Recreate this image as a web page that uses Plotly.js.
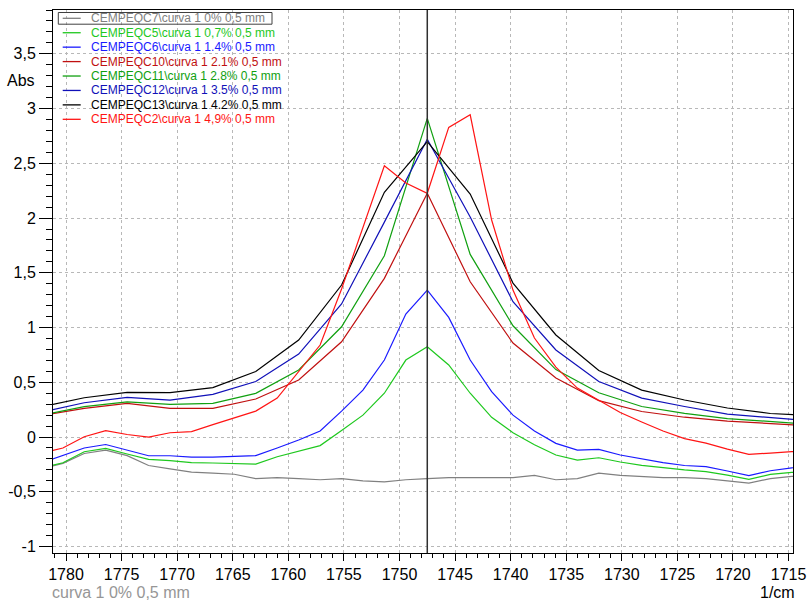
<!DOCTYPE html>
<html>
<head>
<meta charset="utf-8">
<script src="https://cdn.plot.ly/plotly-3.0.1.min.js"></script>
<style>
  html, body { margin: 0; padding: 0; background: #ffffff; }
  #chart { width: 811px; height: 600px; }
</style>
</head>
<body>
<div id="chart"></div>
<script>
// Wavenumber grids (1/cm): full-resolution spectra and half-density spectra
const wnFine = [1782.21, 1780.28, 1778.36, 1776.43, 1774.50, 1772.57, 1770.64, 1768.71, 1766.79, 1764.86,
                1762.93, 1761.00, 1759.07, 1757.14, 1755.21, 1753.29, 1751.36, 1749.43, 1747.50, 1745.57,
                1743.64, 1741.71, 1739.79, 1737.86, 1735.93, 1734.00, 1732.07, 1730.14, 1728.21, 1726.29,
                1724.36, 1722.43, 1720.50, 1718.57, 1716.64, 1714.71, 1712.79];
const wnCoarse = [1782.21, 1778.36, 1774.50, 1770.64, 1766.79, 1762.93, 1759.07, 1755.21, 1751.36, 1747.50,
                  1743.64, 1739.79, 1735.93, 1732.07, 1728.21, 1724.36, 1720.50, 1716.64, 1712.79];

// Absorbance values per sample
const absC7 = [-0.29, -0.24, -0.15, -0.12, -0.17, -0.26, -0.29, -0.32, -0.33, -0.34,
               -0.38, -0.37, -0.38, -0.39, -0.38, -0.40, -0.41, -0.39, -0.38, -0.37,
               -0.37, -0.37, -0.37, -0.35, -0.39, -0.38, -0.33, -0.35, -0.36, -0.37,
               -0.37, -0.38, -0.40, -0.42, -0.38, -0.36, -0.35];
const absC5 = [-0.28, -0.235, -0.134, -0.103, -0.155, -0.204, -0.215, -0.233, -0.237, -0.242,
               -0.247, -0.18, -0.128, -0.078, 0.06, 0.2, 0.4, 0.703, 0.825, 0.658,
               0.4, 0.18, 0.04, -0.07, -0.164, -0.21, -0.189, -0.228, -0.258, -0.281,
               -0.3, -0.316, -0.347, -0.386, -0.341, -0.323, -0.32];
const absC6 = [-0.237, -0.169, -0.1, -0.068, -0.123, -0.171, -0.171, -0.184, -0.183, -0.178,
               -0.169, -0.1, -0.027, 0.055, 0.237, 0.429, 0.703, 1.123, 1.342, 1.093,
               0.703, 0.414, 0.2, 0.055, -0.058, -0.119, -0.112, -0.164, -0.2, -0.233,
               -0.26, -0.27, -0.31, -0.353, -0.308, -0.281, -0.27];
const absC10 = [0.195, 0.262, 0.308, 0.262, 0.262, 0.347, 0.521, 0.87, 1.449, 2.226,
                1.418, 0.858, 0.539, 0.332, 0.233, 0.181, 0.146, 0.123, 0.1];
const absC11 = [0.2, 0.277, 0.322, 0.299, 0.308, 0.399, 0.612, 1.007, 1.656, 2.91,
                1.668, 1.016, 0.616, 0.405, 0.279, 0.216, 0.169, 0.142, 0.114];
const absC12 = [0.226, 0.313, 0.363, 0.338, 0.39, 0.507, 0.758, 1.215, 1.963, 2.719,
                2.009, 1.236, 0.795, 0.507, 0.356, 0.279, 0.21, 0.174, 0.146];
const absC13 = [0.277, 0.359, 0.408, 0.405, 0.452, 0.598, 0.886, 1.388, 2.235, 2.697,
                2.219, 1.406, 0.932, 0.607, 0.429, 0.338, 0.265, 0.215, 0.196];
const absC2 = [-0.146, -0.1, 0.003, 0.058, 0.023, 0.0, 0.039, 0.05, 0.114, 0.178,
               0.237, 0.356, 0.594, 0.84, 1.352, 1.914, 2.477, 2.32, 2.226, 2.828,
               2.943, 1.982, 1.342, 0.904, 0.639, 0.447, 0.338, 0.224, 0.137, 0.055,
               -0.014, -0.055, -0.11, -0.158, -0.146, -0.134, -0.132];

const seriesNames = [
  "CEMPEQC7\\curva 1 0% 0,5 mm",
  "CEMPEQC5\\curva 1 0,7% 0,5 mm",
  "CEMPEQC6\\curva 1 1.4% 0,5 mm",
  "CEMPEQC10\\curva 1 2.1% 0,5 mm",
  "CEMPEQC11\\curva 1 2.8% 0,5 mm",
  "CEMPEQC12\\curva 1 3.5% 0,5 mm",
  "CEMPEQC13\\curva 1 4.2% 0,5 mm",
  "CEMPEQC2\\curva 1 4,9% 0,5 mm"
];
const seriesX = [wnFine, wnFine, wnFine, wnCoarse, wnCoarse, wnCoarse, wnCoarse, wnFine];
const seriesY = [absC7, absC5, absC6, absC10, absC11, absC12, absC13, absC2];
const seriesColors = ["#808080", "#1ec81e", "#1a1aff", "#c01010", "#10a010", "#1010b8", "#000000", "#ff1414"];

const xTickVals = [1780, 1775, 1770, 1765, 1760, 1755, 1750, 1745, 1740, 1735, 1730, 1725, 1720, 1715];
const xTickText = ["1780", "1775", "1770", "1765", "1760", "1755", "1750", "1745", "1740", "1735", "1730", "1725", "1720", "1715"];
const yTickVals = [-1, -0.5, 0, 0.5, 1, 1.5, 2, 2.5, 3, 3.5];
const yTickText = ["-1", "-0,5", "0", "0,5", "1", "1,5", "2", "2,5", "3", "3,5"];

const cursorWn = 1747.5;
const activeCurveLabel = "curva 1 0% 0,5 mm";
const yLabel = "Abs";
const xUnit = "1/cm";

// Page geometry (pixels)
const W = 811, H = 600, ML = 53, MR = 18, MT = 10, MB = 47;
const PW = W - ML - MR, PH = H - MT - MB;
const px = x => (x - ML) / PW;
const py = y => (H - MB - y) / PH;

const FONT = "Liberation Sans, Arial, Helvetica, sans-serif";

const traces = seriesNames.map((name, i) => ({
  type: "scatter",
  mode: "lines",
  name: name,
  x: seriesX[i],
  y: seriesY[i],
  line: { color: seriesColors[i], width: 1.2 },
  hoverinfo: "skip"
}));

// Hand-laid legend block inside the plot
const shapes = [];
const annotations = [];
const legTop = 18.3, legStep = 14.43;
seriesNames.forEach((name, i) => {
  const yc = legTop + legStep * i;
  shapes.push({
    type: "line", xref: "paper", yref: "paper",
    x0: px(62.7), x1: px(80.7), y0: py(yc), y1: py(yc),
    line: { color: seriesColors[i], width: 1.3 }
  });
  annotations.push({
    xref: "paper", yref: "paper", x: px(89), y: py(yc),
    xanchor: "left", yanchor: "middle", showarrow: false,
    text: name, font: { family: FONT, size: 12, color: seriesColors[i] }
  });
});
// frame around the active curve's legend entry
shapes.push({
  type: "rect", xref: "paper", yref: "paper",
  x0: px(58.3), x1: px(272), y0: py(24.2), y1: py(12.5),
  line: { color: "#404040", width: 1 }, fillcolor: "rgba(0,0,0,0)"
});
// cursor line
shapes.push({
  type: "line", xref: "x", yref: "paper", x0: cursorWn, x1: cursorWn, y0: 0, y1: 1,
  line: { color: "#303030", width: 1.5 }, layer: "above"
});

annotations.push({
  xref: "paper", yref: "paper", x: px(37), y: py(80), xanchor: "right", yanchor: "middle",
  showarrow: false, text: yLabel, font: { family: FONT, size: 16, color: "#000" }
});
annotations.push({
  xref: "paper", yref: "paper", x: px(50), y: py(592), xanchor: "left", yanchor: "middle",
  showarrow: false, text: activeCurveLabel, font: { family: FONT, size: 16, color: "#969696" }
});
annotations.push({
  xref: "paper", yref: "paper", x: px(797), y: py(592.5), xanchor: "right", yanchor: "middle",
  showarrow: false, text: xUnit, font: { family: FONT, size: 16, color: "#000" }
});

const layout = {
  width: W, height: H,
  margin: { l: ML, r: MR, t: MT, b: MB, pad: 0 },
  paper_bgcolor: "#ffffff", plot_bgcolor: "#ffffff",
  showlegend: false,
  font: { family: FONT, size: 16, color: "#000" },
  xaxis: {
    range: [1781.17, 1714.6],
    tickmode: "array", tickvals: xTickVals, ticktext: xTickText,
    ticks: "outside", ticklen: 7, tickwidth: 1, tickcolor: "#000",
    tickfont: { family: FONT, size: 16, color: "#000" },
    showline: true, linecolor: "#000", linewidth: 1, mirror: true,
    showgrid: true, gridcolor: "#b8b8b8", griddash: "dot", gridwidth: 1,
    zeroline: false,
    minor: { tickmode: "linear", tick0: 1780, dtick: 1, ticks: "outside", ticklen: 4, tickcolor: "#000", showgrid: false }
  },
  yaxis: {
    range: [-1.059, 3.9],
    tickmode: "array", tickvals: yTickVals, ticktext: yTickText,
    ticks: "outside", ticklen: 13, tickwidth: 1, tickcolor: "#000",
    tickfont: { family: FONT, size: 16, color: "#000" },
    showline: true, linecolor: "#000", linewidth: 1, mirror: true,
    showgrid: true, gridcolor: "#b8b8b8", griddash: "dot", gridwidth: 1,
    zeroline: false,
    minor: { tickmode: "linear", tick0: 0, dtick: 0.1, ticks: "outside", ticklen: 6, tickcolor: "#000", showgrid: false }
  },
  shapes: shapes,
  annotations: annotations
};

Plotly.newPlot("chart", traces, layout, { staticPlot: true, displayModeBar: false });
</script>
</body>
</html>
